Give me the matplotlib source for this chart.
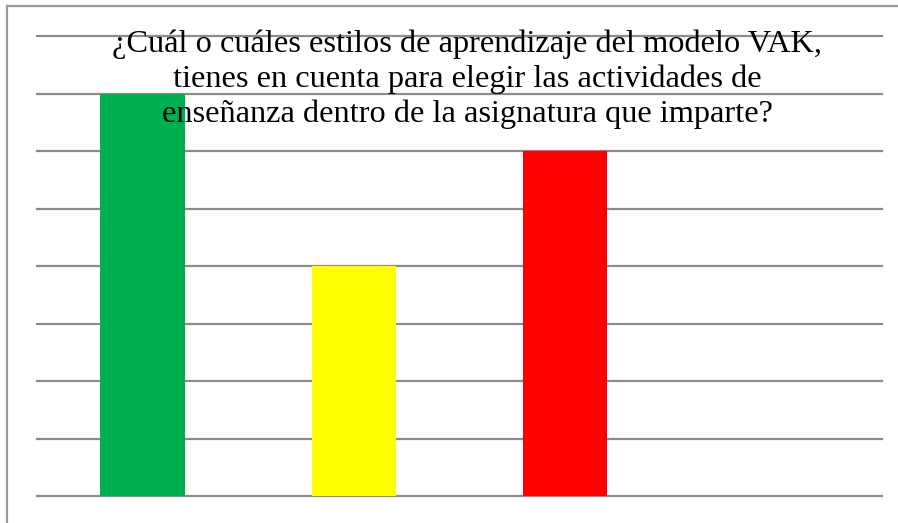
import matplotlib
matplotlib.use('Agg')
import matplotlib.pyplot as plt
from matplotlib.lines import Line2D

# datos
categorias = ['Visual', 'Auditivo', 'Kinestésico']
valores = [7, 4, 6]
colores = ['#00B050', '#FFFF00', '#FF0000']
titulo = ('¿Cuál o cuáles estilos de aprendizaje del modelo VAK,\n'
          'tienes en cuenta para elegir las actividades de\n'
          'enseñanza dentro de la asignatura que imparte?')

W, H = 898, 523
fig = plt.figure(figsize=(W / 100, H / 100), dpi=100)
ax = fig.add_axes([37 / W, (H - 496) / H, (882 - 37) / W, (496 - 36) / H])

ax.bar(range(len(categorias)), valores, width=0.4, color=colores, zorder=3)
ax.set_xlim(-0.5, 3.5)
ax.set_ylim(0, 8)
ax.set_yticks(range(0, 9))
ax.yaxis.grid(True, color='#8c8c8c', linewidth=1.6, zorder=1)
for gl in ax.get_ygridlines():
    gl.set_clip_on(False)
ax.set_axisbelow(True)
ax.tick_params(left=False, bottom=False, labelleft=False, labelbottom=False)
for s in ax.spines.values():
    s.set_visible(False)

# borde del área del gráfico (recortado a la derecha y abajo)
fig.add_artist(Line2D([7 / W, 1], [1 - 6 / H, 1 - 6 / H], color='#999999', linewidth=1.6))
fig.add_artist(Line2D([7 / W, 7 / W], [0, 1 - 6 / H], color='#999999', linewidth=1.6))

fig.text(467 / W, 1 - 79 / H, titulo, ha='center', va='center',
         family='Liberation Serif', fontsize=23.3, linespacing=1.25, zorder=5)

fig.savefig('out.png', dpi=100)
